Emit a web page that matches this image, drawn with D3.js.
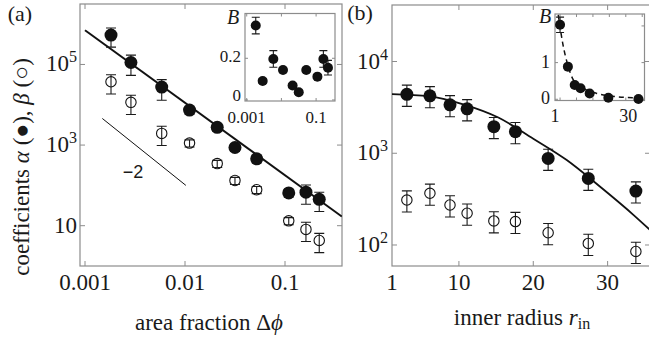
<!DOCTYPE html>
<html>
<head>
<meta charset="utf-8">
<script src="https://cdn.jsdelivr.net/npm/d3@7"></script>
<style>
html, body { margin: 0; padding: 0; background: #fff; }
.frame { fill: none; stroke: #8c8c8c; stroke-width: 1.2; }
.tick { stroke: #8c8c8c; stroke-width: 1; }
.err { stroke: #1a1a1a; stroke-width: 1.1; fill: none; }
</style>
</head>
<body>
<svg id="fig" width="649" height="339"></svg>
<script>
// panel (a): coefficients vs area fraction
var phi = [0.00182, 0.00288, 0.00585, 0.0111, 0.021, 0.0316, 0.0521, 0.109, 0.162, 0.22];
var alphaA = [537000, 112000, 27500, 7400, 2750, 870, 457, 65, 68, 45];
var alphaAErr = [0.5, 0.52, 0.53, 0.2, 0.2, 0.2, 0.2, 0.2, 0.5, 0.5];
var betaA = [37150, 11480, 1950, 1122, 347, 132, 78, 13.2, 8.1, 4.3];
var betaAErr = [0.5, 0.5, 0.5, 0.2, 0.2, 0.2, 0.2, 0.2, 0.5, 0.5];
var fitA = [[0.001, 708000], [0.37, 16.9]];
var slopeRef = [[0.00149, 4570], [0.0102, 100]];
var phiTicks = [0.001, 0.01, 0.1];
var phiTickLabels = ['0.001', '0.01', '0.1'];
var yTicksA = [10, 1000, 100000];
var yTickExpA = ['', '3', '5'];

// inset (a): B vs area fraction
var bA = [0.357, 0.091, 0.197, 0.144, 0.069, 0.037, 0.144, 0.112, 0.197, 0.155];
var bAErr = [0.04, 0.012, 0.04, 0.01, 0.01, 0.01, 0.01, 0.01, 0.04, 0.035];
var bATicksY = [0, 0.2];
var bATickLabelsY = ['0', '0.2'];
var bATickLabelsX = ['0.001', '0.1'];

// panel (b): coefficients vs inner radius
var rin = [3.0, 6.1, 8.8, 11.1, 14.7, 17.6, 22.0, 27.4, 33.8];
var alphaB = [4385, 4227, 3373, 3048, 1950, 1718, 879, 532, 387];
var betaB = [309, 366, 273, 222, 183, 180, 136, 104, 85];
var errB = [0.26, 0.26, 0.26, 0.26, 0.26, 0.26, 0.26, 0.26, 0.26];
var fitB = [[1, 4400], [6, 4170], [10.7, 3390], [15.3, 2450], [20, 1440], [24.5, 843], [29, 431], [33.5, 212], [35.7, 146]];
var rinTicks = [1, 10, 20, 30];
var yTicksB = [100, 1000, 10000];
var yTickExpB = ['2', '3', '4'];

// inset (b): B vs inner radius
var rinB = [3.0, 6.1, 8.8, 11.1, 14.7, 22.1, 34.0];
var bB = [2.03, 0.89, 0.39, 0.30, 0.16, 0.04, 0.01];
var bBErr = [0.21, 0.04, 0.04, 0.04, 0.04, 0.03, 0.03];
var fitBInset = [[2.3, 2.3], [4.04, 1.53], [6.26, 0.89], [8.24, 0.53], [12.2, 0.30], [17.5, 0.16], [25.4, 0.07], [36.4, 0.03]];
var bBTicksX = [3, 9.5, 16, 22.5, 29, 35.5];
var bBTicksY = [0, 1, 2];

(function()
{
    var svg = d3.select('#fig');
    var serif = "'Liberation Serif'";

    var addFrame = function(g, sx, sy, white)
    {
        var r = sx.range(), d = sy.range();
        if (white) {
            g.append('rect').attr('x', r[0]).attr('y', d[1])
                .attr('width', r[1] - r[0]).attr('height', d[0] - d[1])
                .attr('fill', '#fff');
        }
        g.append('rect').attr('class', 'frame').attr('x', r[0]).attr('y', d[1])
            .attr('width', r[1] - r[0]).attr('height', d[0] - d[1]);
    }, addTicks = function(g, sx, sy, xt, yt, len)
    {
        var r = sx.range(), d = sy.range();
        xt.forEach(function(v)
        {
            var x = sx(v);
            g.append('line').attr('class', 'tick').attr('x1', x).attr('x2', x).attr('y1', d[0]).attr('y2', d[0] - len);
            g.append('line').attr('class', 'tick').attr('x1', x).attr('x2', x).attr('y1', d[1]).attr('y2', d[1] + len);
        });
        yt.forEach(function(v)
        {
            var y = sy(v);
            g.append('line').attr('class', 'tick').attr('y1', y).attr('y2', y).attr('x1', r[0]).attr('x2', r[0] + len);
            g.append('line').attr('class', 'tick').attr('y1', y).attr('y2', y).attr('x1', r[1]).attr('x2', r[1] - len);
        });
    }, addClip = function(id, sx, sy)
    {
        var r = sx.range(), d = sy.range();
        svg.append('clipPath').attr('id', id).append('rect')
            .attr('x', r[0]).attr('y', d[1]).attr('width', r[1] - r[0]).attr('height', d[0] - d[1]);
    }, errBars = function(g, xs, ys, lo, hi, sx, sy, cw)
    {
        xs.forEach(function(xv, i)
        {
            var x = sx(xv), y1 = sy(lo(ys[i], i)), y2 = sy(hi(ys[i], i));
            g.append('path').attr('class', 'err')
                .attr('d', 'M' + x + ',' + y1 + 'V' + y2 + 'M' + (x - cw) + ',' + y1 + 'H' + (x + cw) + 'M' + (x - cw) + ',' + y2 + 'H' + (x + cw));
        });
    }, dots = function(g, xs, ys, sx, sy, r, filled)
    {
        g.selectAll(null).data(xs).enter().append('circle')
            .attr('cx', function(d) { return sx(d); })
            .attr('cy', function(d, i) { return sy(ys[i]); })
            .attr('r', r)
            .attr('fill', filled ? '#111' : '#fff')
            .attr('stroke', '#111').attr('stroke-width', filled ? 0 : 1.1);
    }, powLabel = function(g, x, y, base, exp, size)
    {
        var t = g.append('text').attr('x', x).attr('y', y).attr('text-anchor', 'end').attr('font-size', size);
        t.append('tspan').text(base);
        if (exp) {
            t.append('tspan').attr('dy', -9).attr('font-size', size * 0.7).text(exp);
        }
    };

    // ---------- panel (a)
    var xA = d3.scaleLog().domain([Math.pow(10, -3.05), Math.pow(10, -0.43)]).range([80, 342]);
    var yA = d3.scaleLog().domain([1, Math.pow(10, 6.5)]).range([266, 4]);
    var gA = svg.append('g');
    addClip('clipA', xA, yA);
    addFrame(gA, xA, yA, false);
    addTicks(gA, xA, yA, phiTicks, yTicksA, 5);

    phiTicks.forEach(function(v, i)
    {
        gA.append('text').attr('x', xA(v)).attr('y', 290).attr('text-anchor', 'middle').attr('font-size', 23).text(phiTickLabels[i]);
    });
    yTicksA.forEach(function(v, i)
    {
        powLabel(gA, 77, yA(v) + 7, '10', yTickExpA[i], 23);
    });

    var lineA = d3.line().x(function(d) { return xA(d[0]); }).y(function(d) { return yA(d[1]); });
    gA.append('path').attr('clip-path', 'url(#clipA)').attr('d', lineA(fitA))
        .attr('fill', 'none').attr('stroke', '#111').attr('stroke-width', 2);
    gA.append('path').attr('d', lineA(slopeRef))
        .attr('fill', 'none').attr('stroke', '#111').attr('stroke-width', 1);

    errBars(gA, phi, alphaA, function(v, i) { return v * (1 - alphaAErr[i]); }, function(v, i) { return v * (1 + alphaAErr[i]); }, xA, yA, 5);
    dots(gA, phi, alphaA, xA, yA, 6.5, true);
    dots(gA, phi, betaA, xA, yA, 5.2, false);
    errBars(gA, phi, betaA, function(v, i) { return v * (1 - betaAErr[i]); }, function(v, i) { return v * (1 + betaAErr[i]); }, xA, yA, 5);

    // inset (a)
    var xAi = d3.scaleLog().domain([Math.pow(10, -3.05), Math.pow(10, -0.455)]).range([245, 335]);
    var yAi = d3.scaleLinear().domain([-0.005, 0.415]).range([101, 13.5]);
    var gAi = svg.append('g');
    addFrame(gAi, xAi, yAi, true);
    addTicks(gAi, xAi, yAi, phiTicks, bATicksY, 3);
    bATicksY.forEach(function(v, i)
    {
        gAi.append('text').attr('x', 241).attr('y', yAi(v) + (v ? 4 : 1)).attr('text-anchor', 'end').attr('font-size', 17).text(bATickLabelsY[i]);
    });
    [0.001, 0.1].forEach(function(v, i)
    {
        gAi.append('text').attr('x', xAi(v)).attr('y', 123).attr('text-anchor', 'middle').attr('font-size', 17).text(bATickLabelsX[i]);
    });
    gAi.append('text').attr('x', 233).attr('y', 24).attr('text-anchor', 'middle').attr('font-size', 20).attr('font-style', 'italic').text('B');
    errBars(gAi, phi, bA, function(v, i) { return v - bAErr[i]; }, function(v, i) { return v + bAErr[i]; }, xAi, yAi, 4);
    dots(gAi, phi, bA, xAi, yAi, 5, true);

    // axis titles (a)
    var ty = svg.append('text').attr('transform', 'translate(29,167) rotate(-90)')
        .attr('text-anchor', 'middle').attr('font-size', 23);
    ty.append('tspan').text('coefficients ');
    ty.append('tspan').attr('font-style', 'italic').text('\u03b1');
    ty.append('tspan').text(' (\u25cf),  ');
    ty.append('tspan').attr('font-style', 'italic').text('\u03b2');
    ty.append('tspan').text(' (\u25cb)');

    var tx = svg.append('text').attr('x', 209).attr('y', 330).attr('text-anchor', 'middle').attr('font-size', 23);
    tx.append('tspan').text('area fraction \u0394');
    tx.append('tspan').attr('font-style', 'italic').text('\u03d5');

    svg.append('text').attr('x', 20).attr('y', 21).attr('text-anchor', 'middle').attr('font-size', 22).text('(a)');

    // ---------- panel (b)
    var xB = d3.scaleLinear().domain([1, 35.7]).range([392, 650]);
    var yB = d3.scaleLog().domain([Math.pow(10, 1.771), Math.pow(10, 4.616)]).range([266, 5]);
    var gB = svg.append('g');
    addClip('clipB', xB, yB);
    addFrame(gB, xB, yB, false);
    addTicks(gB, xB, yB, rinTicks.slice(1), yTicksB, 5);

    rinTicks.forEach(function(v)
    {
        gB.append('text').attr('x', xB(v)).attr('y', 290).attr('text-anchor', 'middle').attr('font-size', 23).text(v);
    });
    yTicksB.forEach(function(v, i)
    {
        powLabel(gB, 388, yB(v) + 7, '10', yTickExpB[i], 23);
    });

    var lineB = d3.line().x(function(d) { return xB(d[0]); }).y(function(d) { return yB(d[1]); }).curve(d3.curveMonotoneX);
    gB.append('path').attr('clip-path', 'url(#clipB)').attr('d', lineB(fitB))
        .attr('fill', 'none').attr('stroke', '#111').attr('stroke-width', 1.8);

    errBars(gB, rin, alphaB, function(v, i) { return v * (1 - errB[i]); }, function(v, i) { return v * (1 + errB[i]); }, xB, yB, 5);
    dots(gB, rin, alphaB, xB, yB, 6.5, true);
    dots(gB, rin, betaB, xB, yB, 5.2, false);
    errBars(gB, rin, betaB, function(v, i) { return v * (1 - errB[i]); }, function(v, i) { return v * (1 + errB[i]); }, xB, yB, 5);

    // inset (b)
    var xBi = d3.scaleLinear().domain([1, 36.4]).range([555, 644.5]);
    var yBi = d3.scaleLinear().domain([-0.033, 2.325]).range([100.5, 14]);
    var gBi = svg.append('g');
    addClip('clipBi', xBi, yBi);
    addFrame(gBi, xBi, yBi, true);
    addTicks(gBi, xBi, yBi, bBTicksX, bBTicksY, 3);
    bBTicksY.slice(0, 2).forEach(function(v)
    {
        gBi.append('text').attr('x', 550).attr('y', yBi(v) + 5).attr('text-anchor', 'end').attr('font-size', 18).text(v);
    });
    [1, 30].forEach(function(v)
    {
        gBi.append('text').attr('x', xBi(v)).attr('y', 122).attr('text-anchor', 'middle').attr('font-size', 18).text(v);
    });
    gBi.append('text').attr('x', 545).attr('y', 23).attr('text-anchor', 'middle').attr('font-size', 20).attr('font-style', 'italic').text('B');

    var lineBi = d3.line().x(function(d) { return xBi(d[0]); }).y(function(d) { return yBi(d[1]); }).curve(d3.curveMonotoneX);
    gBi.append('path').attr('clip-path', 'url(#clipBi)').attr('d', lineBi(fitBInset))
        .attr('fill', 'none').attr('stroke', '#111').attr('stroke-width', 1.5).attr('stroke-dasharray', '5,4');
    errBars(gBi, rinB, bB, function(v, i) { return v - bBErr[i]; }, function(v, i) { return v + bBErr[i]; }, xBi, yBi, 4);
    dots(gBi, rinB, bB, xBi, yBi, 5, true);

    var tb = svg.append('text').attr('x', 522).attr('y', 325).attr('text-anchor', 'middle').attr('font-size', 23);
    tb.append('tspan').text('inner radius ');
    tb.append('tspan').attr('font-style', 'italic').text('r');
    tb.append('tspan').attr('dy', 4).attr('font-size', 16).text('in');

    svg.append('text').attr('x', 360).attr('y', 20).attr('text-anchor', 'middle').attr('font-size', 22).text('(b)');

    // all labels in serif, the slope mark in sans
    svg.selectAll('text').attr('font-family', serif).attr('fill', '#1a1a1a');
    gA.append('text').attr('x', 133).attr('y', 178).attr('text-anchor', 'middle')
        .attr('font-size', 18).attr('font-family', "'Liberation Sans'").attr('fill', '#1a1a1a').text('\u22122');
})();
</script>
</body>
</html>
